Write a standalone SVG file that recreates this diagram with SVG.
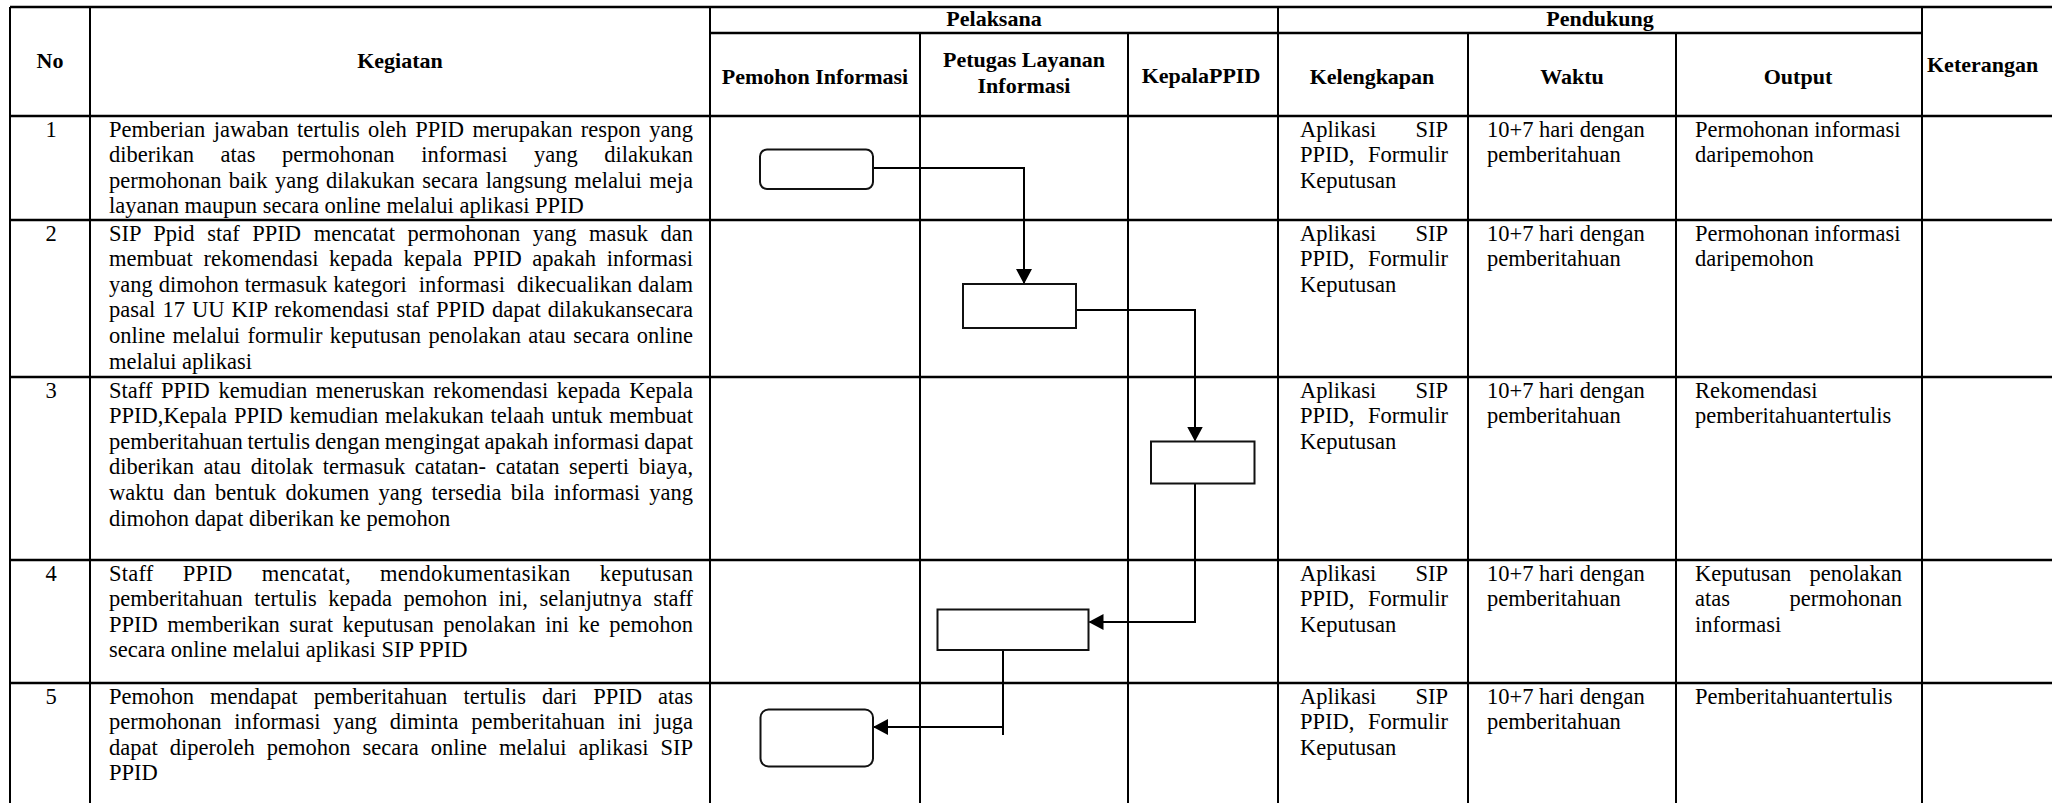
<svg xmlns="http://www.w3.org/2000/svg" width="2052" height="803" viewBox="0 0 2052 803">
<style>
.t{font-family:"Liberation Serif","Times New Roman",serif;font-size:22.5px;fill:#000}
.h{font-family:"Liberation Serif","Times New Roman",serif;font-size:22px;font-weight:bold;fill:#000;text-anchor:middle}
.n{text-anchor:middle}
.hl{stroke:#000;stroke-width:2.5;fill:none}
.vl{stroke:#000;stroke-width:2;fill:none}
.box{fill:#fff;stroke:#111;stroke-width:2}
.conn{fill:none;stroke:#000;stroke-width:2}
</style>
<defs>
<marker id="arr" markerUnits="userSpaceOnUse" markerWidth="16" markerHeight="16" refX="14" refY="8" orient="auto"><path d="M0,0 L15,8 L0,16 Z" fill="#000"/></marker>
</defs>
<rect x="0" y="0" width="2052" height="803" fill="#fff"/>
<g id="table-grid">
<path class="hl" d="M10,7H2052 M710,33H1922 M10,116H2052 M10,220H2052 M10,377H2052 M10,560H2052 M10,683H2052"/>
<path class="vl" d="M10,7V803 M90,7V803 M710,7V803 M920,33V803 M1128,33V803 M1278,7V803 M1468,33V803 M1676,33V803 M1922,7V803"/>
</g>
<g id="header">
<text class="h" x="50" y="68">No</text>
<text class="h" x="400" y="68">Kegiatan</text>
<text class="h" x="994" y="26">Pelaksana</text>
<text class="h" x="1600" y="26">Pendukung</text>
<text class="h" x="815" y="84">Pemohon Informasi</text>
<text class="h" x="1024" y="67">Petugas Layanan</text>
<text class="h" x="1024" y="93">Informasi</text>
<text class="h" x="1201" y="83">KepalaPPID</text>
<text class="h" x="1372" y="84">Kelengkapan</text>
<text class="h" x="1572" y="84">Waktu</text>
<text class="h" x="1798" y="84">Output</text>
<text class="h" x="1927" y="72" style="text-anchor:start">Keterangan</text>
</g>
<g id="row-1">
<text class="t n" x="51" y="136.5">1</text>
<text class="t" x="109" y="136.5" textLength="584" lengthAdjust="spacing" style="word-spacing:2.8px">Pemberian jawaban tertulis oleh PPID merupakan respon yang</text>
<text class="t" x="109" y="162.1" textLength="584" lengthAdjust="spacing" style="word-spacing:20.9px">diberikan atas permohonan informasi yang dilakukan</text>
<text class="t" x="109" y="187.7" textLength="584" lengthAdjust="spacing" style="word-spacing:1.75px">permohonan baik yang dilakukan secara langsung melalui meja</text>
<text class="t" x="109" y="213.3">layanan maupun secara online melalui aplikasi PPID</text>
<text class="t" x="1300" y="136.5" textLength="148" lengthAdjust="spacing" style="word-spacing:33.6px">Aplikasi SIP</text>
<text class="t" x="1300" y="162.1" textLength="148" lengthAdjust="spacing" style="word-spacing:8px">PPID, Formulir</text>
<text class="t" x="1300" y="187.7">Keputusan</text>
<text class="t" x="1487" y="136.5">10+7 hari dengan</text>
<text class="t" x="1487" y="162.1">pemberitahuan</text>
<text class="t" x="1695" y="136.5">Permohonan informasi</text>
<text class="t" x="1695" y="162.1">daripemohon</text>
</g>
<g id="row-2">
<text class="t n" x="51" y="240.5">2</text>
<text class="t" x="109" y="240.5" textLength="584" lengthAdjust="spacing" style="word-spacing:6.9px">SIP Ppid staf PPID mencatat permohonan yang masuk dan</text>
<text class="t" x="109" y="266.1" textLength="584" lengthAdjust="spacing" style="word-spacing:5.06px">membuat rekomendasi kepada kepala PPID apakah informasi</text>
<text class="t" x="109" y="291.7" textLength="584" lengthAdjust="spacing" xml:space="preserve" style="word-spacing:0.35px">yang dimohon termasuk kategori  informasi  dikecualikan dalam</text>
<text class="t" x="109" y="317.3" textLength="584" lengthAdjust="spacing" style="word-spacing:1.45px">pasal 17 UU KIP rekomendasi staf PPID dapat dilakukansecara</text>
<text class="t" x="109" y="342.9" textLength="584" lengthAdjust="spacing" style="word-spacing:1.75px">online melalui formulir keputusan penolakan atau secara online</text>
<text class="t" x="109" y="368.5">melalui aplikasi</text>
<text class="t" x="1300" y="240.5" textLength="148" lengthAdjust="spacing" style="word-spacing:33.6px">Aplikasi SIP</text>
<text class="t" x="1300" y="266.1" textLength="148" lengthAdjust="spacing" style="word-spacing:8px">PPID, Formulir</text>
<text class="t" x="1300" y="291.7">Keputusan</text>
<text class="t" x="1487" y="240.5">10+7 hari dengan</text>
<text class="t" x="1487" y="266.1">pemberitahuan</text>
<text class="t" x="1695" y="240.5">Permohonan informasi</text>
<text class="t" x="1695" y="266.1">daripemohon</text>
</g>
<g id="row-3">
<text class="t n" x="51" y="397.5">3</text>
<text class="t" x="109" y="397.5" textLength="584" lengthAdjust="spacing" style="word-spacing:2.98px">Staff PPID kemudian meneruskan rekomendasi kepada Kepala</text>
<text class="t" x="109" y="423.1" textLength="584" lengthAdjust="spacing" style="word-spacing:1.19px">PPID,Kepala PPID kemudian melakukan telaah untuk membuat</text>
<text class="t" x="109" y="448.7" textLength="584" lengthAdjust="spacing" style="word-spacing:-0.78px">pemberitahuan tertulis dengan mengingat apakah informasi dapat</text>
<text class="t" x="109" y="474.3" textLength="584" lengthAdjust="spacing" style="word-spacing:3.99px">diberikan atau ditolak termasuk catatan- catatan seperti biaya,</text>
<text class="t" x="109" y="499.9" textLength="584" lengthAdjust="spacing" style="word-spacing:3.64px">waktu dan bentuk dokumen yang tersedia bila informasi yang</text>
<text class="t" x="109" y="525.5">dimohon dapat diberikan ke pemohon</text>
<text class="t" x="1300" y="397.5" textLength="148" lengthAdjust="spacing" style="word-spacing:33.6px">Aplikasi SIP</text>
<text class="t" x="1300" y="423.1" textLength="148" lengthAdjust="spacing" style="word-spacing:8px">PPID, Formulir</text>
<text class="t" x="1300" y="448.7">Keputusan</text>
<text class="t" x="1487" y="397.5">10+7 hari dengan</text>
<text class="t" x="1487" y="423.1">pemberitahuan</text>
<text class="t" x="1695" y="397.5">Rekomendasi</text>
<text class="t" x="1695" y="423.1">pemberitahuantertulis</text>
</g>
<g id="row-4">
<text class="t n" x="51" y="580.5">4</text>
<text class="t" x="109" y="580.5" textLength="584" lengthAdjust="spacing" style="word-spacing:23.35px">Staff PPID mencatat, mendokumentasikan keputusan</text>
<text class="t" x="109" y="606.1" textLength="584" lengthAdjust="spacing" style="word-spacing:5.79px">pemberitahuan tertulis kepada pemohon ini, selanjutnya staff</text>
<text class="t" x="109" y="631.7" textLength="584" lengthAdjust="spacing" style="word-spacing:3.89px">PPID memberikan surat keputusan penolakan ini ke pemohon</text>
<text class="t" x="109" y="657.3">secara online melalui aplikasi SIP PPID</text>
<text class="t" x="1300" y="580.5" textLength="148" lengthAdjust="spacing" style="word-spacing:33.6px">Aplikasi SIP</text>
<text class="t" x="1300" y="606.1" textLength="148" lengthAdjust="spacing" style="word-spacing:8px">PPID, Formulir</text>
<text class="t" x="1300" y="631.7">Keputusan</text>
<text class="t" x="1487" y="580.5">10+7 hari dengan</text>
<text class="t" x="1487" y="606.1">pemberitahuan</text>
<text class="t" x="1695" y="580.5" textLength="207" lengthAdjust="spacing" style="word-spacing:12.7px">Keputusan penolakan</text>
<text class="t" x="1695" y="606.1" textLength="207" lengthAdjust="spacing" style="word-spacing:53.9px">atas permohonan</text>
<text class="t" x="1695" y="631.7">informasi</text>
</g>
<g id="row-5">
<text class="t n" x="51" y="703.5">5</text>
<text class="t" x="109" y="703.5" textLength="584" lengthAdjust="spacing" style="word-spacing:10.47px">Pemohon mendapat pemberitahuan tertulis dari PPID atas</text>
<text class="t" x="109" y="729.1" textLength="584" lengthAdjust="spacing" style="word-spacing:7.14px">permohonan informasi yang diminta pemberitahuan ini juga</text>
<text class="t" x="109" y="754.7" textLength="584" lengthAdjust="spacing" style="word-spacing:6.39px">dapat diperoleh pemohon secara online melalui aplikasi SIP</text>
<text class="t" x="109" y="780.3">PPID</text>
<text class="t" x="1300" y="703.5" textLength="148" lengthAdjust="spacing" style="word-spacing:33.6px">Aplikasi SIP</text>
<text class="t" x="1300" y="729.1" textLength="148" lengthAdjust="spacing" style="word-spacing:8px">PPID, Formulir</text>
<text class="t" x="1300" y="754.7">Keputusan</text>
<text class="t" x="1487" y="703.5">10+7 hari dengan</text>
<text class="t" x="1487" y="729.1">pemberitahuan</text>
<text class="t" x="1695" y="703.5">Pemberitahuantertulis</text>
</g>
<g id="connectors">
<path class="conn" d="M873,168H1024V283" marker-end="url(#arr)"/>
<path class="conn" d="M1076,310H1195V440.5" marker-end="url(#arr)"/>
<path class="conn" d="M1195,483.5V622H1089.5" marker-end="url(#arr)"/>
<path class="conn" d="M1003,650V735"/>
<path class="conn" d="M1003,727H874" marker-end="url(#arr)"/>
</g>
<g id="node-1"><rect class="box" x="760" y="149.5" width="113" height="39.5" rx="7"/></g>
<g id="node-2"><rect class="box" x="963" y="284" width="113" height="44"/></g>
<g id="node-3"><rect class="box" x="1151" y="441.5" width="103.5" height="42"/></g>
<g id="node-4"><rect class="box" x="937.5" y="609.5" width="151" height="40.5"/></g>
<g id="node-5"><rect class="box" x="760.5" y="709.5" width="112.5" height="57" rx="8"/></g>
</svg>
